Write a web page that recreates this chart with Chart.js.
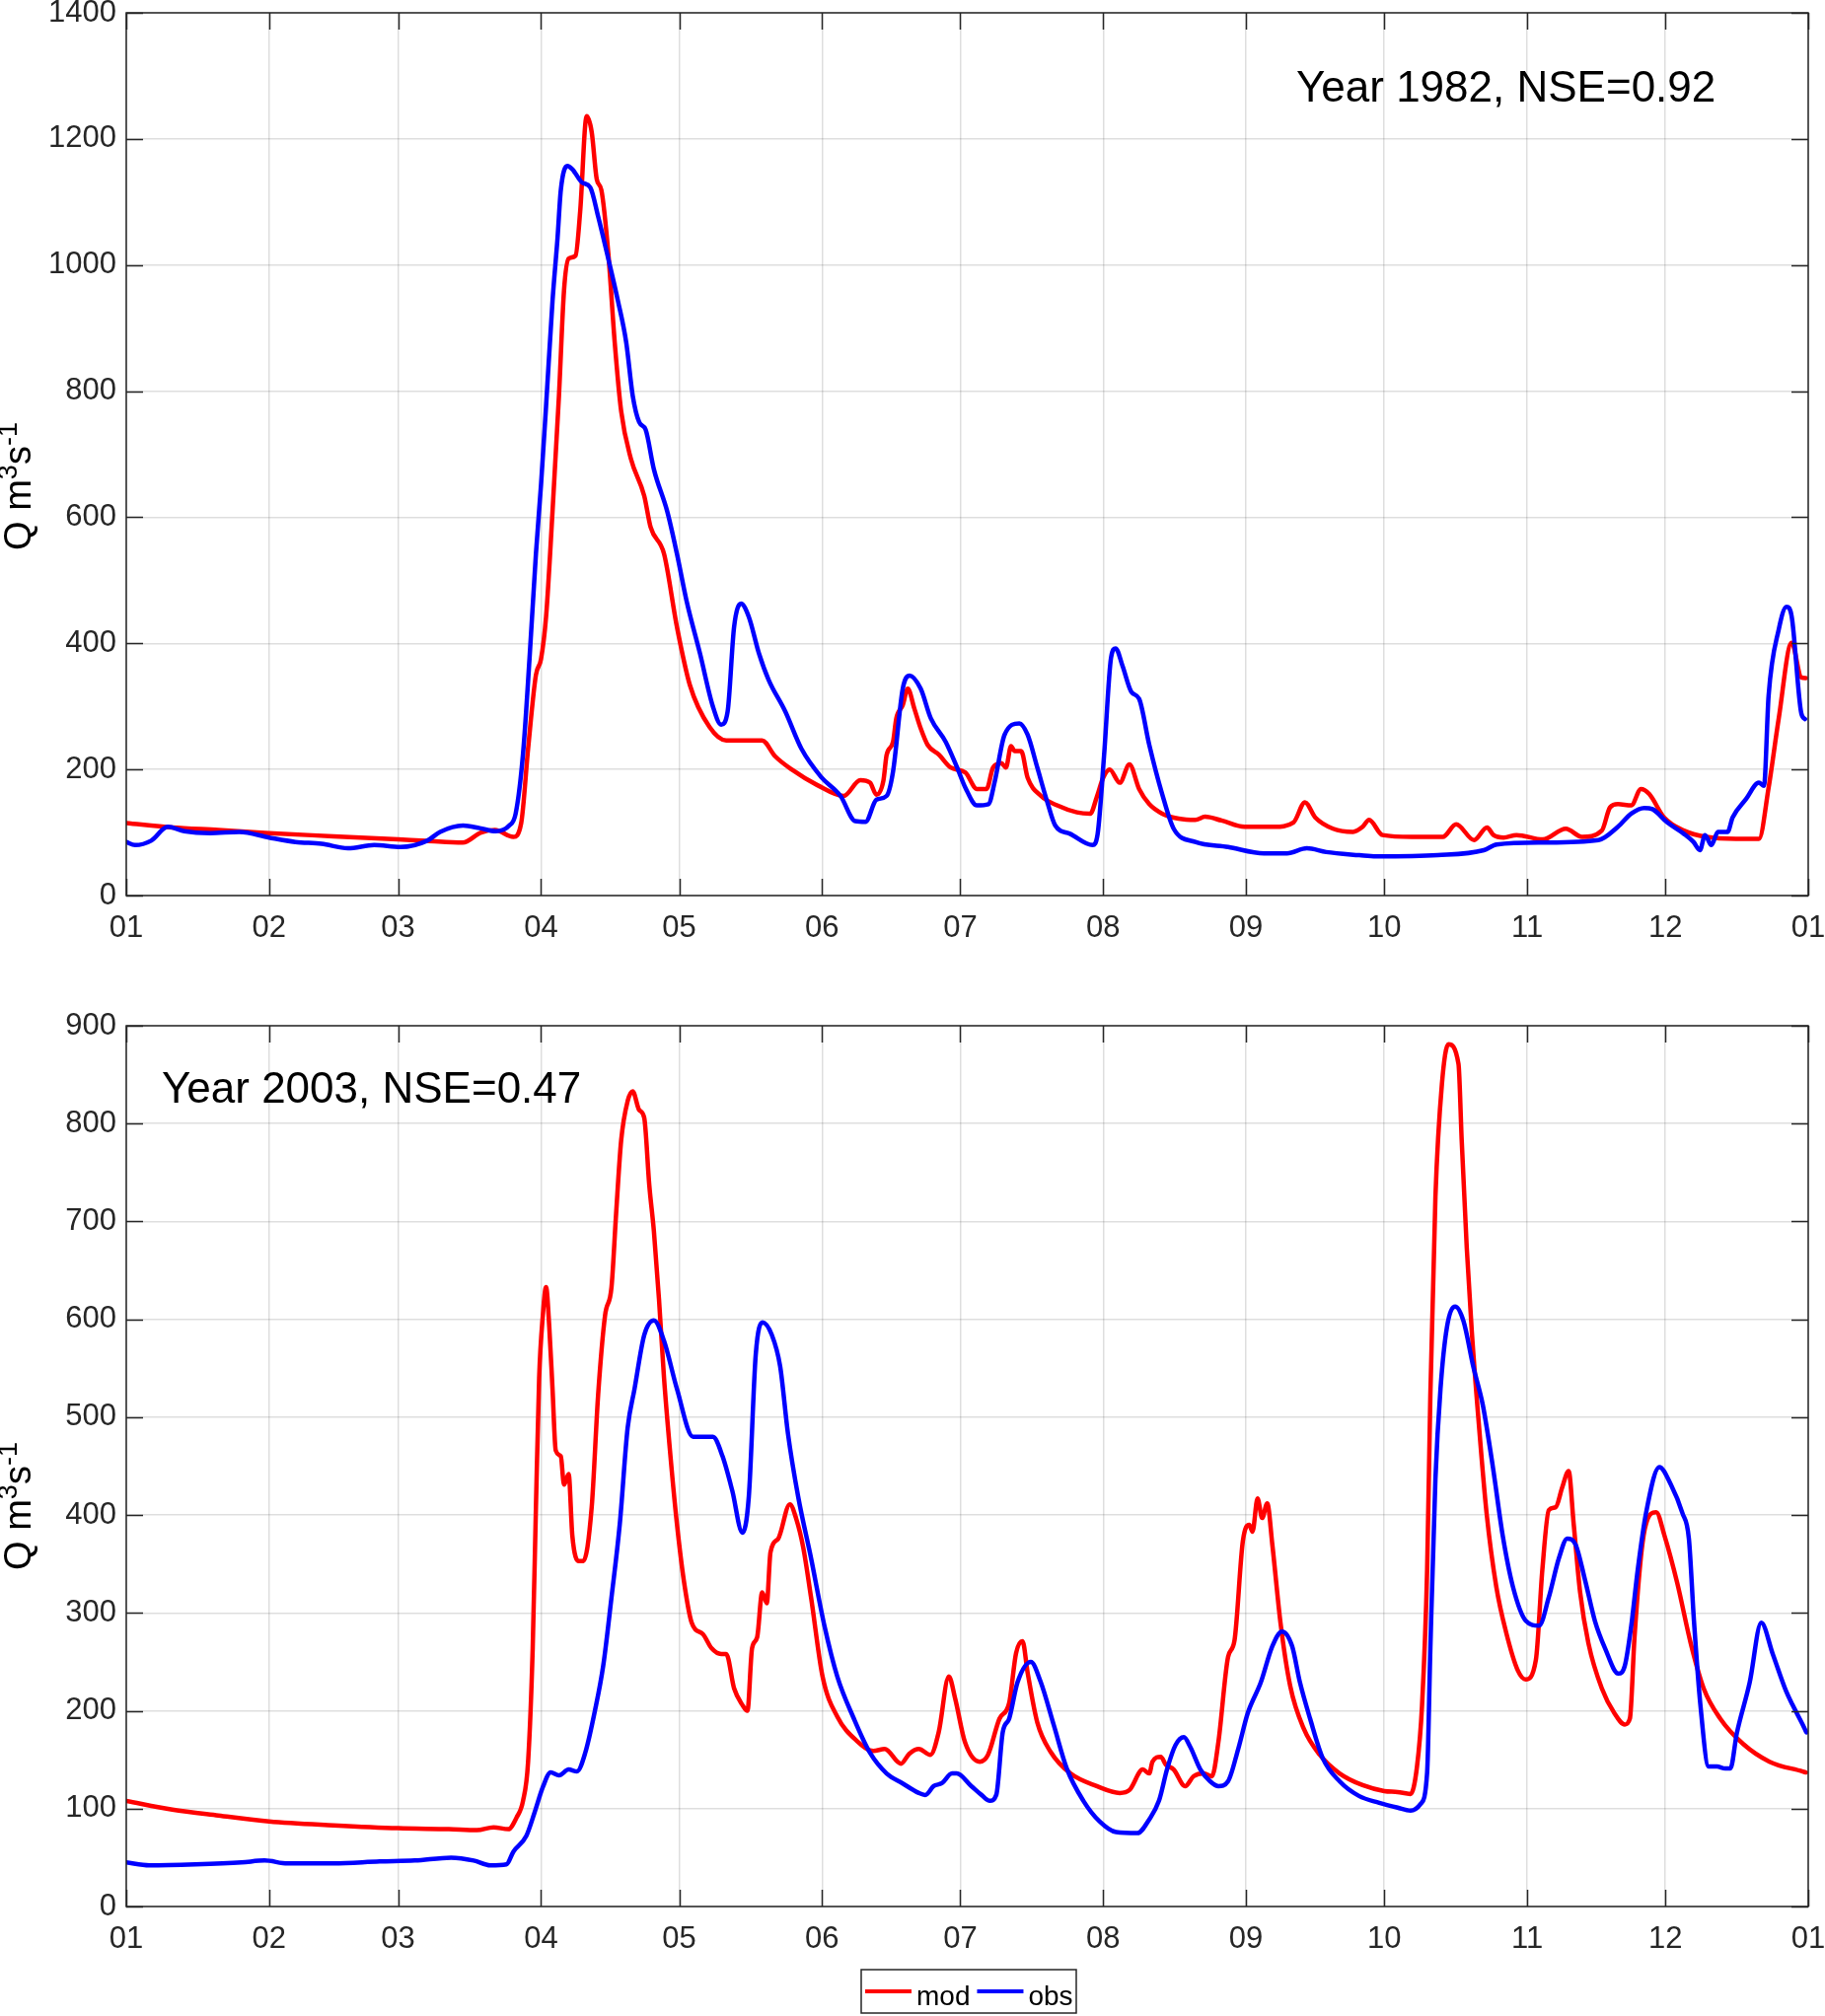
<!DOCTYPE html>
<html>
<head>
<meta charset="utf-8">
<script src="https://cdn.jsdelivr.net/npm/chart.js@4.4.1/dist/chart.umd.min.js"></script>
<style>
  html, body { margin: 0; padding: 0; background: #fff; overflow: hidden; }
  canvas { display: block; }
</style>
</head>
<body>
<canvas id="chart1982" width="1850" height="985"></canvas>
<canvas id="chart2003" width="1850" height="1059"></canvas>
<script>
// x axis: day of year, ticks at the first day of each month
const monthStartDays = [0, 31, 59, 90, 120, 151, 181, 212, 243, 273, 304, 334, 365];
const monthLabels = ['01', '02', '03', '04', '05', '06', '07', '08', '09', '10', '11', '12', '01'];

const qTicks1982 = [0, 200, 400, 600, 800, 1000, 1200, 1400];
const qTicks2003 = [0, 100, 200, 300, 400, 500, 600, 700, 800, 900];

const seriesLabels = ['mod', 'obs'];

// 1982, modelled
const mod1982Days = [0,10,20,31,45,59,65,73,77,80,
  84,85.7,87.2,88.9,90,91.1,92.5,93.9,95,96,
  97.5,98.5,99.9,101,102.1,103.1,104.6,106,107.4,109.5,
  112.4,113.8,116.7,119.5,122.3,126.6,130.2,133.7,138,140.8,
  144.4,150,155.7,159.3,161.4,162.8,164.3,165,166.4,167.1,
  168.5,169.6,171,172.4,173.9,176.4,178.9,182.1,184.6,186.7,
  188.1,189.9,190.9,192,192.8,194.2,195.6,198.5,202,206.3,
  209.2,210.6,212,213.4,215.6,217.7,219.8,222,224.8,228.4,
  232,234.1,237.7,242.7,249.1,253.3,255.8,258,261.9,266.2,
  268.3,269.7,272.6,279,285.7,288.6,292.5,295.3,296.7,298.9,
  301.7,307.4,312.4,315.9,320.2,322,323.7,326.6,328.7,330.5,
  333.7,338,342.9,349.3,354.3,356.4,358.6,361.4,363.5,364.5];
const mod1982Q = [115,108,104,99,94,89,87,84,100,104,
  93,115,233,350,375,442,609,793,960,1010,
  1015,1085,1236,1211,1136,1119,1019,877,768,693,
  634,584,542,426,334,267,246,246,246,221,
  200,175,158,183,179,160,182,223,244,281,
  302,328,297,265,239,223,203,195,169,169,
  203,210,203,237,229,229,187,158,143,132,
  130,156,187,200,179,208,169,145,130,122,
  120,125,119,109,109,116,148,124,106,101,
  109,120,96,93,93,113,88,108,96,92,
  96,89,106,93,103,140,145,143,169,161,
  124,103,93,90,90,171,281,401,346,345];

// 1982, observed
const obs1982Days = [0,1.9,5.4,9,12.6,18.2,24.6,31,36.7,42.4,
  48.1,53.8,59.5,65.3,68.1,73.1,76.7,80.2,83.1,84.5,
  86.1,87.5,88.9,90,91.1,92.5,93.6,94.3,95.7,96.8,
  98.9,100.7,102.4,104.6,106.7,108.5,109.9,111.3,112.7,114.5,
  117.4,119.5,121.6,124.5,127.3,129.1,130.5,131.9,133.4,135.1,
  137.3,139.4,143,146.5,150.8,155,158.2,160.4,162.8,165,
  166.4,168.5,170,172.4,174.6,177.8,180.3,182.1,184.6,187.1,
  188.5,190.6,193.8,195.6,197.7,199.8,201.6,204.8,209.7,210.8,
  212.2,213.7,214.7,216.2,218.1,219.8,222,224.8,227.3,232,
  239.1,246.9,251.9,256.2,260.4,267.6,271.2,284.6,294.6,297.4,
  307.4,319.5,323.7,326.6,329.4,331.2,334.4,338,340.1,341.5,
  342.6,344,345.4,347.5,348.6,351.5,354.3,355.4,356.4,358.6,
  360.3,361.4,363.5,364.3];
const obs1982Q = [85,80,87,109,102,99,101,92,85,82,
  75,80,77,87,101,111,107,102,111,130,
  225,375,542,651,776,943,1044,1119,1157,1152,
  1131,1123,1077,1010,943,877,793,751,739,676,
  609,542,467,384,300,271,292,426,463,442,
  384,342,292,233,188,158,118,117,152,158,
  197,328,349,328,281,244,203,171,143,145,
  182,255,273,255,203,150,111,98,80,98,
  223,377,392,364,323,312,239,161,106,85,
  77,67,67,75,69,64,62,64,72,81,
  84,88,109,130,139,137,116,98,85,72,
  96,80,101,101,124,153,179,174,317,422,
  458,443,289,280];

// 2003, modelled
const mod2003Days = [0,10,20,31,45,59,70,76.1,79.7,82.9,
  84.7,86.1,87.2,88.2,88.9,89.6,90.4,91.1,91.8,92.5,
  93.2,94.3,95,96,96.8,98.2,99.2,101,102.4,103.9,
  105.3,106.3,107.4,108.8,109.9,111.3,112.4,113.5,114.5,115.6,
  116.7,118.1,119.5,121,122.7,125.2,127,129.1,130.2,131.9,
  133.7,134.8,135.8,136.9,138,139,139.8,141.5,144,145.4,
  146.9,148.6,151.1,154.3,158.6,162.1,164.6,168.1,169.9,172,
  174.5,176.3,178.5,179.9,182,185.2,187,189.5,191.6,193.1,
  194.5,195.6,197.7,200.6,204.9,210.6,215.6,217.7,220.6,222,
  222.7,224.5,225.6,227.3,229.8,231.6,233.8,235.6,237,239.1,
  240.5,242.3,243.7,244.4,245.5,246.5,247.6,248.7,250.5,252.6,
  255.5,259,263.3,268.3,273,275.9,278.7,280.1,281.2,282.3,
  283,284.1,285.5,286.9,289.1,289.8,290.9,292,293.4,295.2,
  297.3,299.4,302,303.7,305.9,307.3,308.7,310.2,311.6,313,
  314.1,315.5,317.3,320.2,323,325.2,326.3,327.3,328.8,329.8,
  332,333.8,336.6,339.5,342.3,345.9,350.9,356.6,363.8,364.5];
const mod2003Q = [108,99,93,87,83,80,79,78,81,79,
  91,108,148,264,408,540,604,633,592,529,
  466,460,431,442,379,353,353,408,523,604,
  633,708,783,823,833,814,806,737,690,621,
  540,460,391,333,290,278,264,258,258,223,
  206,200,264,275,321,310,362,376,411,396,
  367,316,235,194,169,159,161,146,156,161,
  155,178,235,212,168,148,155,192,208,259,
  271,239,188,158,136,123,116,119,140,136,
  148,153,145,140,123,133,136,133,168,255,
  272,373,390,383,417,397,412,370,289,225,
  182,155,136,124,118,117,115,143,206,344,
  523,725,840,881,861,783,673,587,500,402,
  327,281,241,232,252,344,405,408,428,445,
  391,321,269,223,197,186,192,275,362,391,
  403,379,330,269,223,192,166,148,138,137];

// 2003, observed
const obs2003Days = [0,5,15,25,30,35,45,55,62.6,70.5,
  75.4,79,82.5,84,86.8,88.6,90.4,92.1,93.9,96,
  97.8,99.6,101.7,103.5,105.3,107.1,108.8,110.3,112.4,114.5,
  116.7,119.5,123,125.2,127.3,129.4,131.5,133.7,135.1,136.6,
  138.1,140.1,141.9,143.6,145.8,148.6,151.5,154.3,157.9,161.4,
  165,168.4,172,173.4,175.2,177,179.2,180.2,183.4,185.6,
  187.4,188.8,190.2,191.6,193.4,196.3,198.4,201.3,204.1,207.7,
  211.2,214.8,219.4,222,224.1,225.9,227.7,229.5,230.9,233.1,
  235.2,237,239.1,241.3,243.4,246.2,248.7,250.8,253,254.7,
  256.9,259.7,263.3,267.5,271.9,275.9,278.7,280.9,282.3,283,
  284.1,285.2,286.6,288.4,290.2,292.3,294.4,296.6,298.7,300.9,
  303.7,306.6,308.7,310.9,312.7,314.5,316.6,318.7,320.9,323.8,
  325.2,326.6,328,329.8,332.7,335.2,337.7,339.1,340.2,341.6,
  343.4,345.2,347,348.1,349.5,352.3,354.8,357.3,360.2,361.6,
  364.1,364.6];
const obs2003Q = [45,42,43,45,47,44,44,46,47,50,
  47,42,43,56,72,96,122,137,134,140,
  138,157,200,246,316,391,489,529,584,599,
  578,529,480,480,480,460,425,382,419,564,
  597,584,552,483,419,356,287,235,192,157,
  136,126,116,114,123,126,136,136,123,114,
  108,114,178,192,229,250,230,185,141,108,
  87,76,75,89,108,141,165,173,163,140,
  128,123,128,161,198,229,266,281,266,229,
  192,151,128,113,106,101,98,105,137,264,
  437,529,592,613,598,552,512,448,379,327,
  292,287,316,356,376,370,333,292,264,238,
  246,287,344,402,449,431,402,376,292,206,
  143,143,141,141,177,229,290,258,220,206,
  183,178];

const FONT = '"Liberation Sans", Arial, sans-serif';
const AXIS_COLOR = '#262626';
const MOD_COLOR = '#ff0000';
const OBS_COLOR = '#0000ff';

const toPoints = (days, q) => days.map((d, i) => ({ x: d, y: q[i] }));

// MATLAB-like box with inward ticks, the y label and the annotation text
const matlabAxes = {
  id: 'matlabAxes',
  afterDatasetsDraw(chart, args, opts) {
    const { ctx, chartArea: a, scales: { x, y } } = chart;
    const tl = 17;
    ctx.save();
    ctx.strokeStyle = AXIS_COLOR;
    ctx.lineWidth = 1.5;
    ctx.beginPath();
    x.ticks.forEach(t => {
      const px = Math.round(x.getPixelForValue(t.value)) + 0.5;
      ctx.moveTo(px, a.bottom); ctx.lineTo(px, a.bottom - tl);
      ctx.moveTo(px, a.top); ctx.lineTo(px, a.top + tl);
    });
    y.ticks.forEach(t => {
      const py = Math.round(y.getPixelForValue(t.value)) + 0.5;
      ctx.moveTo(a.left, py); ctx.lineTo(a.left + tl, py);
      ctx.moveTo(a.right, py); ctx.lineTo(a.right - tl, py);
    });
    ctx.stroke();
    ctx.strokeRect(a.left, a.top, a.right - a.left, a.bottom - a.top);

    // annotation
    ctx.fillStyle = '#000';
    ctx.font = '44px ' + FONT;
    ctx.textBaseline = 'alphabetic';
    ctx.textAlign = 'left';
    ctx.fillText(opts.text, opts.textX, opts.textY);

    // rotated y label: Q m^3 s^-1
    const parts = [['Q m', 0, 38], ['3', 14, 27], ['s', 0, 38], ['-1', 14, 27]];
    let total = 0;
    parts.forEach(p => { ctx.font = p[2] + 'px ' + FONT; total += ctx.measureText(p[0]).width; });
    ctx.translate(31, opts.labelY);
    ctx.rotate(-Math.PI / 2);
    let cx = -total / 2;
    parts.forEach(p => {
      ctx.font = p[2] + 'px ' + FONT;
      ctx.fillText(p[0], cx, -p[1]);
      cx += ctx.measureText(p[0]).width;
    });
    ctx.restore();

    if (opts.legend) {
      const L = opts.legend;
      ctx.save();
      ctx.fillStyle = '#fff';
      ctx.fillRect(L.x, L.y, L.w, L.h);
      ctx.strokeStyle = AXIS_COLOR;
      ctx.lineWidth = 1.5;
      ctx.strokeRect(L.x, L.y, L.w, L.h);
      ctx.font = '28px ' + FONT;
      ctx.textBaseline = 'alphabetic';
      let lx = L.x + 4;
      chart.data.datasets.forEach(ds => {
        ctx.strokeStyle = ds.borderColor;
        ctx.lineWidth = 4;
        ctx.beginPath();
        ctx.moveTo(lx, L.y + 22); ctx.lineTo(lx + 47, L.y + 22);
        ctx.stroke();
        ctx.fillStyle = '#000';
        ctx.fillText(ds.label, lx + 52, L.y + 36);
        lx += 52 + ctx.measureText(ds.label).width + 7;
      });
      ctx.restore();
    }
  }
};

function makeChart(id, modPts, obsPts, qTicks, qMax, pad, xAxisHeight, plug) {
  return new Chart(document.getElementById(id), {
    type: 'line',
    data: {
      datasets: [
        { label: seriesLabels[0], data: modPts, borderColor: MOD_COLOR, borderWidth: 4.5, order: 2 },
        { label: seriesLabels[1], data: obsPts, borderColor: OBS_COLOR, borderWidth: 4.5, order: 1 }
      ]
    },
    options: {
      responsive: false,
      devicePixelRatio: 1,
      animation: false,
      events: [],
      layout: { padding: pad },
      elements: {
        point: { radius: 0 },
        line: { cubicInterpolationMode: 'monotone', borderJoinStyle: 'round', borderCapStyle: 'round' }
      },
      plugins: { legend: { display: false }, tooltip: { enabled: false }, matlabAxes: plug },
      scales: {
        x: {
          type: 'linear', min: 0, max: 365,
          afterBuildTicks: s => { s.ticks = monthStartDays.map(v => ({ value: v })); },
          afterFit: s => { s.height = xAxisHeight; s.paddingLeft = 0; s.paddingRight = 0; },
          ticks: {
            autoSkip: false, maxRotation: 0, padding: 15,
            color: AXIS_COLOR, font: { family: FONT, size: 31 },
            callback: (v, i) => monthLabels[i]
          },
          grid: { color: 'rgba(0,0,0,0.13)', lineWidth: 1.5, drawTicks: false },
          border: { display: false }
        },
        y: {
          min: 0, max: qMax,
          afterBuildTicks: s => { s.ticks = qTicks.map(v => ({ value: v })); },
          afterFit: s => { s.width = 128; s.paddingTop = 0; s.paddingBottom = 0; },
          ticks: {
            padding: 10, color: AXIS_COLOR, font: { family: FONT, size: 31 },
            callback: v => String(v)
          },
          grid: { color: 'rgba(0,0,0,0.13)', lineWidth: 1.5, drawTicks: false },
          border: { display: false }
        }
      }
    },
    plugins: [matlabAxes]
  });
}

makeChart('chart1982',
  toPoints(mod1982Days, mod1982Q), toPoints(obs1982Days, obs1982Q),
  qTicks1982, 1400,
  { top: 13, right: 17, bottom: 0, left: 0 }, 77,
  { text: 'Year 1982, NSE=0.92', textX: 1314, textY: 103, labelY: 493 });

makeChart('chart2003',
  toPoints(mod2003Days, mod2003Q), toPoints(obs2003Days, obs2003Q),
  qTicks2003, 900,
  { top: 55, right: 17, bottom: 50, left: 0 }, 61,
  { text: 'Year 2003, NSE=0.47', textX: 164, textY: 133, labelY: 542,
    legend: { x: 873, y: 1012, w: 218, h: 44 } });
</script>
</body>
</html>
